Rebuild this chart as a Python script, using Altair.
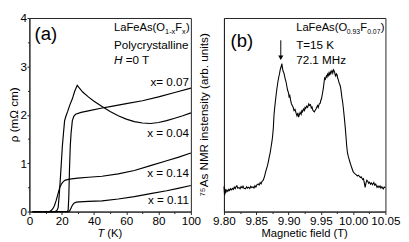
import altair as alt
import pandas as pd

FONT = "Liberation Sans"

# ---------------- Panel (a): resistivity vs temperature ----------------
T_007 = [2, 10, 20, 23.5, 24.0, 24.4, 24.8, 25.3, 25.8, 26.6, 27.5, 28.6, 32, 36.5, 45, 50, 60, 70, 80, 90, 100]
R_007 = [0, 0, 0, 0.0, 0.03, 0.30, 0.85, 1.35, 1.62, 1.88, 1.97, 2.01, 2.05, 2.08, 2.14, 2.17, 2.23, 2.29, 2.37, 2.46, 2.55]

T_004 = [2, 10, 16.0, 17.0, 17.8, 18.5, 19.2, 19.8, 20.4, 21.1, 21.8, 22.7, 23.7, 25.0, 26.6, 28.0, 29.6, 31.0,
         33.0, 36.5, 40, 45, 50, 55, 60, 65, 70, 75, 80, 85, 90, 95, 100]
R_004 = [0, 0, 0, 0.02, 0.08, 0.35, 0.70, 1.02, 1.35, 1.62, 1.88, 1.98, 2.07, 2.20, 2.33, 2.48, 2.61, 2.55,
         2.47, 2.37, 2.28, 2.17, 2.07, 1.98, 1.91, 1.86, 1.83, 1.82, 1.84, 1.88, 1.93, 1.98, 2.04]

T_014 = [2, 10, 12.5, 13.5, 14.5, 15.5, 16.5, 17.5, 18.8, 20.0, 21.0, 22.0, 23.5, 25.0, 27.5, 30, 36.5, 45, 55,
         65, 75, 85, 92, 100]
R_014 = [0, 0, 0, 0.02, 0.06, 0.12, 0.22, 0.34, 0.50, 0.58, 0.62, 0.645, 0.66, 0.67, 0.68, 0.69, 0.71, 0.73, 0.78,
         0.85, 0.95, 1.05, 1.12, 1.21]

T_011 = [2, 10, 20, 24.5, 25.2, 26.0, 26.8, 27.6, 29.0, 31.0, 36.5, 45, 55, 65, 75, 85, 92, 100]
R_011 = [0, 0, 0, 0, 0.03, 0.09, 0.14, 0.175, 0.195, 0.20, 0.21, 0.22, 0.26, 0.31, 0.37, 0.43, 0.48, 0.54]

curve_labels = ["x= 0.07", "x = 0.04", "x = 0.14", "x = 0.11"]
label_T = [98.8, 98.8, 98.8, 98.8]
label_rho = [2.67, 1.63, 0.80, 0.24]

# ---------------- Panel (b): 75As NMR spectrum ----------------
B_field = [
    9.8000, 9.8010, 9.8018, 9.8030, 9.8045, 9.8060, 9.8075, 9.8088, 9.8100, 9.8115,
    9.8130, 9.8145, 9.8160, 9.8175, 9.8186, 9.8200, 9.8215, 9.8235, 9.8250, 9.8265,
    9.8280, 9.8295, 9.8310, 9.8333, 9.8350, 9.8365, 9.8382, 9.8400, 9.8415, 9.8430,
    9.8450, 9.8465, 9.8480, 9.8495, 9.8510, 9.8530, 9.8545, 9.8560, 9.8575, 9.8590,
    9.8603, 9.8615, 9.8630, 9.8645, 9.8660, 9.8676, 9.8690, 9.8703, 9.8716, 9.8730,
    9.8742, 9.8752, 9.8765, 9.8775, 9.8788, 9.8800, 9.8812, 9.8824, 9.8836, 9.8848,
    9.8860, 9.8872, 9.8885, 9.8897, 9.8905, 9.8915, 9.8930, 9.8945, 9.8960, 9.8970,
    9.8985, 9.9000, 9.9010, 9.9020, 9.9035, 9.9045, 9.9058, 9.9070, 9.9085, 9.9100,
    9.9118, 9.9130, 9.9145, 9.9155, 9.9166, 9.9180, 9.9195, 9.9205, 9.9216, 9.9230,
    9.9245, 9.9255, 9.9265, 9.9280, 9.9295, 9.9313, 9.9325, 9.9340, 9.9352, 9.9363,
    9.9375, 9.9390, 9.9400, 9.9410, 9.9425, 9.9440, 9.9450, 9.9460, 9.9475, 9.9490,
    9.9500, 9.9510, 9.9525, 9.9540, 9.9550, 9.9559, 9.9570, 9.9585, 9.9595, 9.9603,
    9.9615, 9.9625, 9.9635, 9.9645, 9.9655, 9.9662, 9.9672, 9.9685, 9.9695, 9.9706,
    9.9715, 9.9722, 9.9730, 9.9740, 9.9750, 9.9760, 9.9770, 9.9782, 9.9795, 9.9804,
    9.9815, 9.9826, 9.9838, 9.9850, 9.9865, 9.9878, 9.9890, 9.9900, 9.9912, 9.9925,
    9.9938, 9.9951, 9.9965, 9.9980, 10.0000, 10.0015, 10.0030, 10.0050, 10.0065, 10.0080,
    10.0098, 10.0112, 10.0125, 10.0147, 10.0160, 10.0172, 10.0186, 10.0200, 10.0212, 10.0225,
    10.0240, 10.0255, 10.0270, 10.0285, 10.0300, 10.0320, 10.0335, 10.0350, 10.0370, 10.0385,
    10.0400, 10.0416, 10.0430, 10.0445, 10.0466, 10.0480, 10.0500,
]
intensity = [
    0.130, 0.085, 0.118, 0.100, 0.112, 0.104, 0.115, 0.109, 0.118, 0.112,
    0.120, 0.114, 0.126, 0.119, 0.128, 0.133, 0.121, 0.124, 0.118, 0.129,
    0.123, 0.131, 0.120, 0.117, 0.128, 0.121, 0.126, 0.119, 0.131, 0.124,
    0.127, 0.122, 0.134, 0.126, 0.138, 0.143, 0.137, 0.150, 0.143, 0.156,
    0.160, 0.168, 0.185, 0.205, 0.222, 0.240, 0.262, 0.285, 0.305, 0.335,
    0.360, 0.385, 0.434, 0.500, 0.545, 0.580, 0.615, 0.645, 0.672, 0.694,
    0.712, 0.735, 0.748, 0.765, 0.742, 0.726, 0.714, 0.690, 0.672, 0.654,
    0.628, 0.612, 0.589, 0.598, 0.570, 0.556, 0.548, 0.540, 0.522, 0.528,
    0.507, 0.495, 0.510, 0.488, 0.499, 0.512, 0.502, 0.520, 0.515, 0.530,
    0.522, 0.538, 0.532, 0.545, 0.538, 0.556, 0.548, 0.552, 0.535, 0.540,
    0.525, 0.518, 0.515, 0.522, 0.530, 0.542, 0.548, 0.538, 0.556, 0.560,
    0.575, 0.583, 0.610, 0.640, 0.668, 0.690, 0.684, 0.700, 0.695, 0.710,
    0.702, 0.716, 0.708, 0.722, 0.712, 0.720, 0.728, 0.715, 0.732, 0.727,
    0.718, 0.705, 0.700, 0.712, 0.708, 0.690, 0.682, 0.665, 0.655, 0.645,
    0.620, 0.590, 0.565, 0.530, 0.480, 0.434, 0.385, 0.340, 0.304, 0.285,
    0.270, 0.255, 0.240, 0.225, 0.206, 0.200, 0.195, 0.190, 0.184, 0.188,
    0.182, 0.176, 0.180, 0.166, 0.170, 0.150, 0.125, 0.150, 0.162, 0.158,
    0.146, 0.152, 0.141, 0.148, 0.139, 0.150, 0.136, 0.142, 0.125, 0.132,
    0.124, 0.133, 0.121, 0.128, 0.117, 0.126, 0.125,
]

a_major_x = [0, 20, 40, 60, 80, 100]
a_minor_x = [10, 30, 50, 70, 90]
a_major_y = [0, 1, 2, 3, 4]
a_minor_y = [0.5, 1.5, 2.5, 3.5]
b_major_x = [9.80, 9.85, 9.90, 9.95, 10.00, 10.05]
b_minor_x = [9.825, 9.875, 9.925, 9.975, 10.025]

W, H = 166, 199
INK = "#222"

# ---------- build panel (a) ----------
res = pd.concat([
    pd.DataFrame({"T": T_007, "rho": R_007, "series": "0.07"}),
    pd.DataFrame({"T": T_004, "rho": R_004, "series": "0.04"}),
    pd.DataFrame({"T": T_014, "rho": R_014, "series": "0.14"}),
    pd.DataFrame({"T": T_011, "rho": R_011, "series": "0.11"}),
])
sx_a = alt.Scale(domain=[0, 100], nice=False)
sy_a = alt.Scale(domain=[0, 4], nice=False)

lines_a = alt.Chart(res).mark_line(color="black", strokeWidth=1.2).encode(
    x=alt.X("T:Q", scale=sx_a, axis=alt.Axis(values=a_major_x, title=None, orient="bottom",
                                             tickSize=3, labelPadding=1)),
    y=alt.Y("rho:Q", scale=sy_a, axis=alt.Axis(values=a_major_y, title=None, orient="left",
                                               tickSize=2.5, labelPadding=0.5)),
    detail="series:N",
)

lab_df = pd.DataFrame({"T": label_T, "rho": label_rho, "t": curve_labels})
labels_a = alt.Chart(lab_df).mark_text(align="right", baseline="middle", fontSize=12, font=FONT,
                                       color="black").encode(
    x=alt.X("T:Q", scale=sx_a, axis=alt.Axis(values=a_minor_x, labels=False, title=None, domain=False,
                                             orient="bottom", tickSize=2)),
    y=alt.Y("rho:Q", scale=sy_a, axis=alt.Axis(values=a_minor_y, labels=False, title=None, domain=False,
                                               orient="left", tickSize=2)),
    text="t:N",
)

one = pd.DataFrame({"k": [0]})


def note(text, xv, yv, xf, yf, dx=0, dy=0, size=12, style="normal", align="left"):
    d = pd.DataFrame({xf: [xv], yf: [yv], "t": [text]})
    return alt.Chart(d).mark_text(align=align, baseline="middle", dx=dx, dy=dy, fontSize=size,
                                  fontStyle=style, font=FONT, color="black").encode(
        x=alt.X(f"{xf}:Q", axis=None), y=alt.Y(f"{yf}:Q", axis=None), text="t:N")


def axis_title(text, px, py, dx=0, size=12, style="normal", angle=0, align="center"):
    return alt.Chart(one).mark_text(align=align, baseline="middle", dx=dx, fontSize=size, fontStyle=style,
                                    font=FONT, color="black", angle=angle).encode(
        x=alt.value(px), y=alt.value(py), text=alt.value(text))


notes_a = [
    note("(a)", 3.2, 3.66, "T", "rho", size=19),
    note("LaFeAs(O", 52.4, 3.80, "T", "rho", size=11.5),
    note("1-x", 52.4, 3.80, "T", "rho", dx=52.5, dy=4, size=7.5),
    note("F", 52.4, 3.80, "T", "rho", dx=63, size=11.5),
    note("x", 52.4, 3.80, "T", "rho", dx=70, dy=4, size=7.5),
    note(")", 52.4, 3.80, "T", "rho", dx=74, size=11.5),
    note("Polycrystalline", 52.4, 3.45, "T", "rho", size=12),
    note("H", 52.4, 3.12, "T", "rho", size=12, style="italic"),
    note("=0 T", 52.4, 3.12, "T", "rho", dx=12, size=12),
    axis_title("ρ (mΩ cm)", -15.5, H / 2, size=12, angle=270),
    axis_title("T", W / 2, H + 23, dx=-13, size=11.5, style="italic", align="left"),
    axis_title("(K)", W / 2, H + 23, dx=-3, size=11.5, align="left"),
]

panel_a = alt.layer(lines_a, labels_a, *notes_a).resolve_axis(x="independent", y="independent").properties(
    width=W, height=H)

# ---------- build panel (b) ----------
nmr = pd.DataFrame({"B": B_field, "I": intensity})
sx_b = alt.Scale(domain=[9.80, 10.05], nice=False, zero=False)
sy_b = alt.Scale(domain=[0, 1], nice=False)

line_b = alt.Chart(nmr).mark_line(color="black", strokeWidth=1.1).encode(
    x=alt.X("B:Q", scale=sx_b, axis=alt.Axis(values=b_major_x, format=".2f", title=None,
                                             orient="bottom", tickSize=3, labelPadding=1)),
    y=alt.Y("I:Q", scale=sy_b, axis=alt.Axis(title=None, labels=False, ticks=False, orient="left")),
)
minor_b = alt.Chart(nmr.head(1)).mark_point(opacity=0).encode(
    x=alt.X("B:Q", scale=sx_b, axis=alt.Axis(values=b_minor_x, labels=False, title=None, domain=False,
                                             orient="bottom", tickSize=2)),
    y=alt.Y("I:Q", scale=sy_b, axis=None),
)

arrow_B = [9.888]
arrow_top = [0.885]
arrow_bot = [0.795]
arrow_df = pd.DataFrame({"B": arrow_B, "I": arrow_top, "I2": arrow_bot})
arrow_line = alt.Chart(arrow_df).mark_rule(color="black", strokeWidth=1).encode(
    x=alt.X("B:Q", axis=None), y=alt.Y("I:Q", axis=None), y2="I2:Q")
arrow_head = alt.Chart(arrow_df).mark_point(shape="triangle-down", filled=True, color="black", size=28,
                                            opacity=1).encode(
    x=alt.X("B:Q", axis=None), y=alt.Y("I2:Q", axis=None))

notes_b = [
    note("(b)", 9.8103, 0.88, "B", "I", size=19),
    note("LaFeAs(O", 9.9118, 0.946, "B", "I", size=11.5),
    note("0.93", 9.9118, 0.946, "B", "I", dx=52, dy=4, size=7),
    note("F", 9.9118, 0.946, "B", "I", dx=66, size=11.5),
    note("0.07", 9.9118, 0.946, "B", "I", dx=73, dy=4, size=7),
    note(")", 9.9118, 0.946, "B", "I", dx=87, size=11.5),
    note("T=15 K", 9.9118, 0.859, "B", "I", size=12),
    note("72.1 MHz", 9.9118, 0.785, "B", "I", size=12),
    axis_title("\u2077\u2075As NMR instensity (arb. units)", -20, H / 2, size=12, angle=270),
    axis_title("Magnetic field (T)", W / 2, H + 23, size=11.5),
]

panel_b = alt.layer(line_b, minor_b, arrow_line, arrow_head, *notes_b).resolve_axis(
    x="independent", y="independent").properties(width=W, height=H)

chart = alt.hconcat(panel_a, panel_b, spacing=34, bounds="flush").properties(
    padding=0
).configure_view(
    stroke=INK, strokeWidth=1
).configure_axis(
    grid=False, labelFont=FONT, titleFont=FONT, labelFontSize=12, titleFontWeight="normal",
    domainColor=INK, tickColor=INK, labelColor="black", titleColor="black",
    labelFlush=False, labelOverlap=False, minExtent=0
)

chart.save("out.html", embed_options={"renderer": "svg", "actions": False})
